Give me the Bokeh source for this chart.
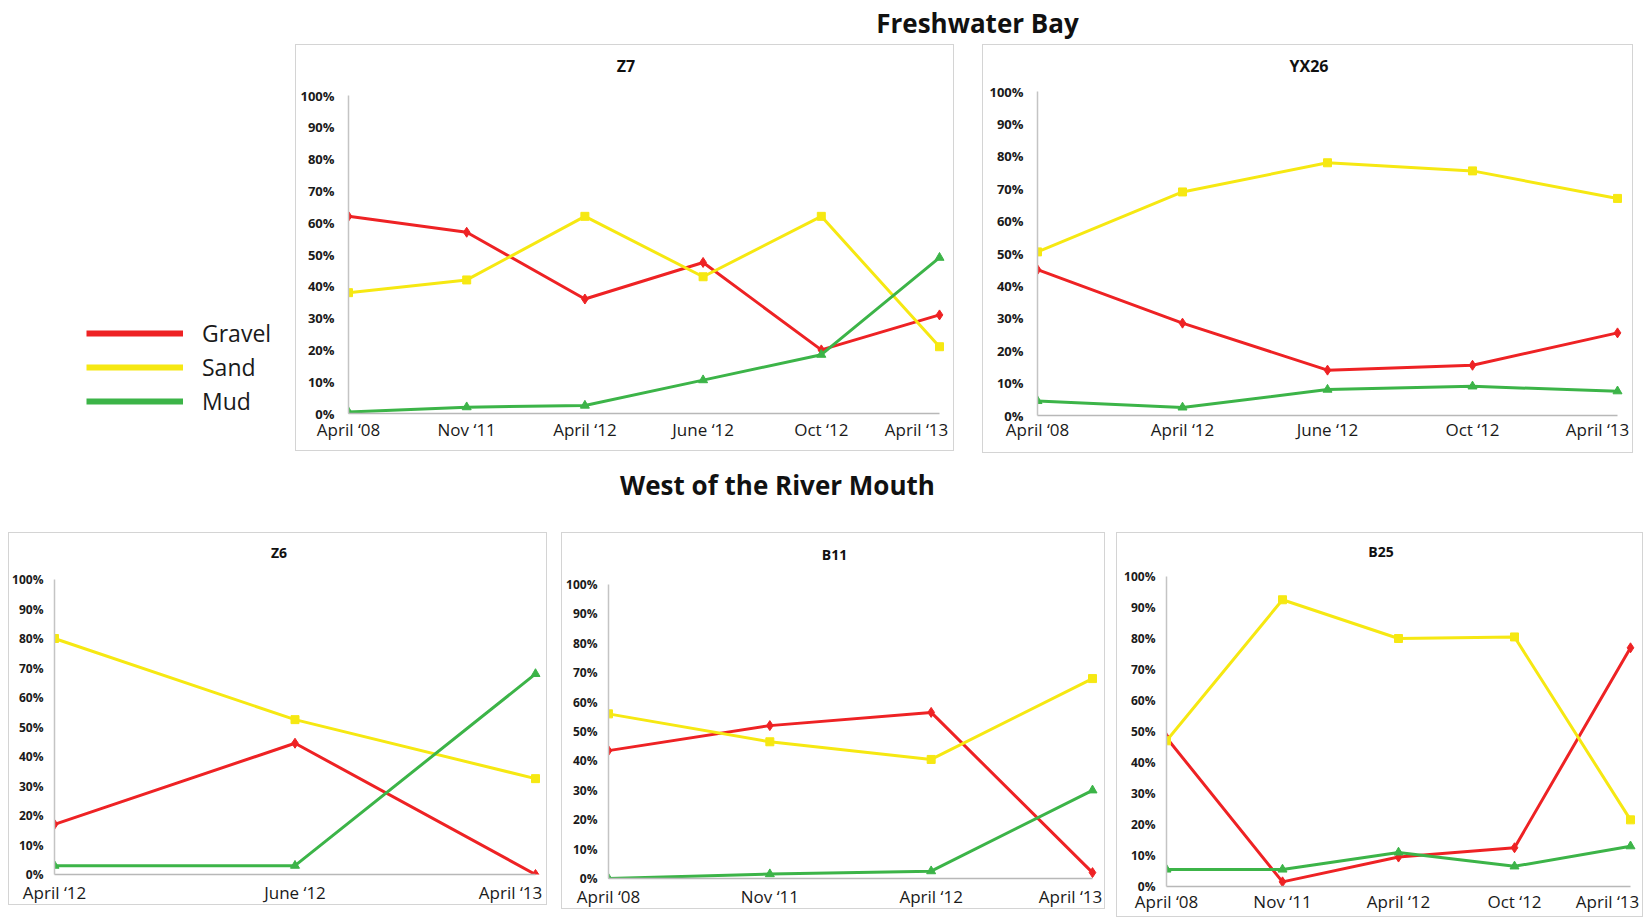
from bokeh.plotting import figure
from bokeh.layouts import row, column
from bokeh.models import (FixedTicker, PrintfTickFormatter, Legend, LegendItem,
                          Label, Spacer, Range1d)
from bokeh.embed import file_html
from bokeh.resources import INLINE

# ---------------- data ----------------
series_names = ["Gravel", "Sand", "Mud"]
series_colors = ["#ee2224", "#f6e812", "#3cb448"]

y_ticks = [0, 10, 20, 30, 40, 50, 60, 70, 80, 90, 100]

z7_dates = ["April \u201808", "Nov \u201811", "April \u201812", "June \u201812", "Oct \u201812", "April \u201813"]
z7_gravel = [62, 57, 36, 47.5, 20, 31]
z7_sand = [38, 42, 62, 43, 62, 21]
z7_mud = [0.5, 2, 2.5, 10.5, 18.5, 49]

yx26_dates = ["April \u201808", "April \u201812", "June \u201812", "Oct \u201812", "April \u201813"]
yx26_gravel = [45, 28.5, 14, 15.5, 25.5]
yx26_sand = [50.5, 69, 78, 75.5, 67]
yx26_mud = [4.5, 2.5, 8, 9, 7.5]

z6_dates = ["April \u201812", "June \u201812", "April \u201813"]
z6_gravel = [17, 44.5, 0]
z6_sand = [80, 52.5, 32.5]
z6_mud = [3, 3, 68]

b11_dates = ["April \u201808", "Nov \u201811", "April \u201812", "April \u201813"]
b11_gravel = [43.5, 52, 56.5, 2]
b11_sand = [56, 46.5, 40.5, 68]
b11_mud = [0, 1.5, 2.5, 30]

b25_dates = ["April \u201808", "Nov \u201811", "April \u201812", "Oct \u201812", "April \u201813"]
b25_gravel = [48, 1.5, 9.5, 12.5, 77]
b25_sand = [47, 92.5, 80, 80.5, 21.5]
b25_mud = [5.5, 5.5, 11, 6.5, 13]

# ---------------- styling ----------------
FONT = "Open Sans"
BOX = {"border": "1.5px solid #d4d4d4", "box-sizing": "border-box"}


def panel(name, dates, gravel, sand, mud, w, h, left, rgap, top100, bottom,
          title_gap, title_size, ylab_size, ystand, xstand, last_shift):
    """left: box edge -> first category; rgap: last category -> box edge;
    top100: box top -> 100% line; bottom: 0% line -> box bottom."""
    n = len(dates)
    xs = list(range(n))
    plot_w = w - left - rgap          # pixels between first and last category
    plot_h = h - bottom - top100      # pixels between 0% and 100%
    frame_w = w - left
    frame_h = h - bottom
    x_end = (n - 1) * frame_w / plot_w
    y_end = 100.0 * frame_h / plot_h
    p = figure(width=w, height=h, x_range=Range1d(0, x_end), y_range=Range1d(0, y_end),
               toolbar_location=None, output_backend="svg", title=None,
               min_border_left=left, min_border_right=0,
               min_border_top=0, min_border_bottom=bottom,
               styles=BOX)
    p.outline_line_color = None
    p.xgrid.visible = False
    p.ygrid.visible = False

    # last category label is pulled inside the chart box (no tick marks are drawn)
    tick_pos = xs[:-1] + [xs[-1] - last_shift * (n - 1) / plot_w]
    xa = p.xaxis[0]
    xa.bounds = (0, n - 1)
    xa.ticker = FixedTicker(ticks=tick_pos)
    xa.major_label_overrides = {t: d for t, d in zip(tick_pos, dates)}
    xa.axis_line_color = "#b8b8b8"
    xa.axis_line_width = 1.5
    xa.major_tick_line_color = None
    xa.minor_tick_line_color = None
    xa.major_tick_out = 0
    xa.major_tick_in = 0
    xa.minor_tick_out = 0
    xa.minor_tick_in = 0
    xa.major_label_text_font = FONT
    xa.major_label_text_font_size = "17px"
    xa.major_label_text_color = "#1a1a1a"
    xa.major_label_standoff = xstand

    ya = p.yaxis[0]
    ya.bounds = (0, 100)
    ya.ticker = FixedTicker(ticks=y_ticks)
    ya.formatter = PrintfTickFormatter(format="%d%%")
    ya.axis_line_color = "#c4c4c4"
    ya.axis_line_width = 1.5
    ya.major_tick_line_color = None
    ya.minor_tick_line_color = None
    ya.major_tick_out = 0
    ya.major_tick_in = 0
    ya.minor_tick_out = 0
    ya.minor_tick_in = 0
    ya.major_label_text_font = FONT
    ya.major_label_text_font_style = "bold"
    ya.major_label_text_font_size = ylab_size
    ya.major_label_text_color = "#1a1a1a"
    ya.major_label_standoff = ystand

    p.add_layout(Label(x=w / 2 - left, y=frame_h - title_gap + 1,
                       x_units="screen", y_units="screen", text=name,
                       text_align="center", text_baseline="middle",
                       text_font=FONT, text_font_style="bold",
                       text_font_size=title_size, text_color="#111111"))

    vals = [gravel, sand, mud]
    markers = ["diamond", "square", "triangle"]
    msize = [10, 8, 9]
    for v, c, m, s in zip(vals, series_colors, markers, msize):
        p.line(xs, v, line_color=c, line_width=3)
        p.scatter(xs, v, marker=m, size=s, fill_color=c, line_color=c)
    return p


z7 = panel("Z7", z7_dates, z7_gravel, z7_sand, z7_mud, 659, 407, 52, 16, 50, 39, 21, "16px", "13px", 14, 4, 23)
yx26 = panel("YX26", yx26_dates, yx26_gravel, yx26_sand, yx26_mud, 651, 409, 54, 17, 46, 39, 21, "16px", "13px", 14, 2, 20)
z6 = panel("Z6", z6_dates, z6_gravel, z6_sand, z6_mud, 539, 373, 45, 13, 46, 32, 19.5, "14px", "12px", 11, 6, 25)
b11 = panel("B11", b11_dates, b11_gravel, b11_sand, b11_mud, 544, 377, 46, 14, 51, 32, 21.5, "14px", "12px", 11, 6, 22)
b25 = panel("B25", b25_dates, b25_gravel, b25_sand, b25_mud, 527, 385, 49, 14, 43, 32, 18.5, "14px", "12px", 11, 3, 23)

# ---------------- legend area ----------------
lg = figure(width=295, height=413, toolbar_location=None, output_backend="svg", title=None,
            x_axis_location=None, y_axis_location=None,
            min_border_left=0, min_border_top=0, min_border_right=0, min_border_bottom=39,
            x_range=Range1d(0, 1), y_range=Range1d(0, 1))
lg.outline_line_color = None
lg.xgrid.visible = False
lg.ygrid.visible = False
items = []
for nme, c in zip(series_names, series_colors):
    r = lg.line(x=[float("nan")], y=[float("nan")], line_color=c, line_width=6)
    items.append(LegendItem(label=nme, renderers=[r]))
leg = Legend(items=items, location=(86, 1), glyph_width=97, glyph_height=24,
             label_height=24, spacing=2, padding=0, margin=0,
             border_line_color=None, background_fill_alpha=0,
             label_text_font=FONT, label_text_font_size="23px",
             label_text_color="#1a1a1a", label_standoff=19)
lg.add_layout(leg)


def header(text, w, h, cx, cy):
    f = figure(width=w, height=h, toolbar_location=None, output_backend="svg", title=None,
               x_axis_location=None, y_axis_location=None, min_border=0,
               x_range=Range1d(0, 1), y_range=Range1d(0, 1))
    f.outline_line_color = None
    f.xgrid.visible = False
    f.ygrid.visible = False
    f.add_layout(Label(x=cx, y=cy, x_units="screen", y_units="screen", text=text,
                       text_align="center", text_baseline="middle",
                       text_font=FONT, text_font_style="bold",
                       text_font_size="26px", text_color="#111111"))
    return f


hdr1 = header("Freshwater Bay", 1640, 44, 977, 22)
hdr2 = header("West of the River Mouth", 1640, 75, 777, 48)

top = row(lg, z7, Spacer(width=28), yx26)
bottom = row(Spacer(width=8), z6, Spacer(width=14), b11, Spacer(width=11), b25)
layout = column(hdr1, top, hdr2, bottom)

open("out.html", "w").write(file_html(layout, INLINE))
